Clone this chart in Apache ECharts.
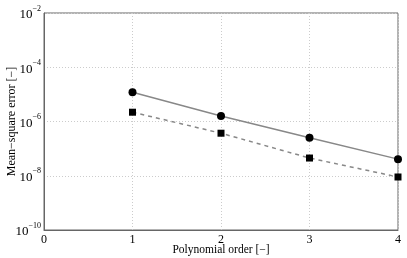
<!DOCTYPE html>
<html>
<head>
<meta charset="utf-8">
<script src="https://cdn.jsdelivr.net/npm/echarts@6/dist/echarts.min.js"></script>
<style>
  html, body { margin: 0; padding: 0; background: #fff; }
  #chart { width: 407px; height: 258px; }
</style>
</head>
<body>
<div id="chart"></div>
<script>
// polynomial orders and error values
const orders = [1, 2, 3, 4];
const errCircle = [1.2e-5, 1.6e-6, 2.5e-7, 4.1e-8];
const errSquare = [2.2e-6, 3.7e-7, 4.5e-8, 9.0e-9];

const serif = 'Liberation Serif';
const chart = echarts.init(document.getElementById('chart'), null, { renderer: 'canvas' });

const pairs = (ys) => orders.map((x, i) => [x, ys[i]]);

chart.setOption({
  animation: false,
  textStyle: { fontFamily: serif },
  grid: {
    left: 44, right: 9, top: 13, bottom: 28,
    containLabel: false,
    outerBoundsMode: 'none',
    show: true, borderColor: '#666', borderWidth: 1
  },
  xAxis: {
    type: 'value',
    min: 0, max: 4, interval: 1,
    name: 'Polynomial order [\u2212]',
    nameLocation: 'middle',
    nameGap: 14,
    nameMoveOverlap: false,
    nameTextStyle: { fontFamily: serif, fontSize: 11.5, color: '#000' },
    axisLine: { show: true, lineStyle: { color: '#666' } },
    axisTick: { show: false },
    axisLabel: { fontFamily: serif, fontSize: 12, color: '#000', margin: 4 },
    splitLine: { show: true, lineStyle: { color: '#ccc', type: [1, 2], width: 1 } }
  },
  yAxis: {
    type: 'log',
    logBase: 10,
    min: 1e-10, max: 1e-2, interval: 2,
    name: 'Mean\u2212square error [\u2212]',
    nameLocation: 'middle',
    nameGap: 26,
    nameMoveOverlap: false,
    nameTextStyle: { fontFamily: serif, fontSize: 12, color: '#000' },
    axisLine: { show: true, lineStyle: { color: '#666' } },
    axisTick: { show: false },
    axisLabel: {
      margin: 3,
      formatter: (v) => '{b|10}{e|' + Math.round(Math.log10(v)).toString().replace('-', '\u2212') + '}',
      rich: {
        b: { fontFamily: serif, fontSize: 13, color: '#000', verticalAlign: 'bottom' },
        e: { fontFamily: serif, fontSize: 8, color: '#000', verticalAlign: 'top', padding: [0, 0, 9, 0] }
      }
    },
    splitLine: { show: true, lineStyle: { color: '#ccc', type: [1, 2], width: 1 } }
  },
  series: [
    {
      type: 'line',
      data: pairs(errCircle),
      symbol: 'circle',
      symbolSize: 8,
      itemStyle: { color: '#000' },
      lineStyle: { color: '#888', width: 1.5, type: 'solid' }
    },
    {
      type: 'line',
      data: pairs(errSquare),
      symbol: 'rect',
      symbolSize: 7,
      itemStyle: { color: '#000' },
      lineStyle: { color: '#888', width: 1.5, type: [4, 4] }
    }
  ]
});
</script>
</body>
</html>
